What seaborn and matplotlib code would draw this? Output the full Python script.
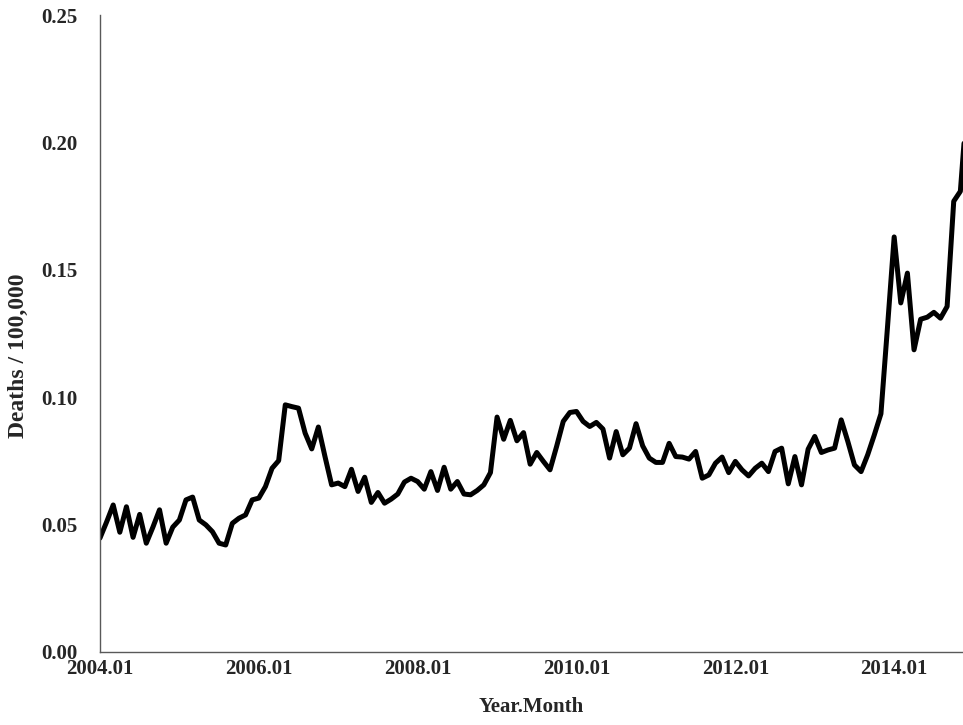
import numpy as np
import pandas as pd
import matplotlib.pyplot as plt
import seaborn as sns

# monthly rate, 2004.01 onwards
deaths = [
    0.0447, 0.0510, 0.0577, 0.0470, 0.0570, 0.0450, 0.0540, 0.0427, 0.0490, 0.0558,
    0.0427, 0.0490, 0.0518, 0.0597, 0.0608, 0.0518, 0.0499, 0.0472, 0.0427, 0.0420,
    0.0505, 0.0525, 0.0538, 0.0597, 0.0604, 0.0649, 0.0721, 0.0751, 0.0970, 0.0963,
    0.0957, 0.0859, 0.0797, 0.0883, 0.0767, 0.0656, 0.0663, 0.0649, 0.0717, 0.0630,
    0.0686, 0.0587, 0.0626, 0.0584, 0.0600, 0.0620, 0.0667, 0.0682, 0.0669, 0.0639,
    0.0708, 0.0634, 0.0725, 0.0639, 0.0669, 0.0620, 0.0617, 0.0634, 0.0656, 0.0704,
    0.0922, 0.0835, 0.0909, 0.0829, 0.0861, 0.0737, 0.0783, 0.0748, 0.0715, 0.0807,
    0.0905, 0.0940, 0.0944, 0.0905, 0.0885, 0.0901, 0.0875, 0.0761, 0.0865, 0.0774,
    0.0800, 0.0896, 0.0809, 0.0761, 0.0744, 0.0744, 0.0819, 0.0767, 0.0765, 0.0757,
    0.0787, 0.0682, 0.0695, 0.0741, 0.0765, 0.0704, 0.0748, 0.0715, 0.0691, 0.0721,
    0.0741, 0.0708, 0.0787, 0.0800, 0.0660, 0.0767, 0.0656, 0.0796, 0.0846, 0.0783,
    0.0793, 0.0800, 0.0911, 0.0826, 0.0734, 0.0708, 0.0774, 0.0852, 0.0935, 0.1278,
    0.1629, 0.1370, 0.1487, 0.1186, 0.1306, 0.1314, 0.1333, 0.1310, 0.1356, 0.1769,
    0.1808, 0.2150,
]
years = [2004 + i // 12 for i in range(len(deaths))]
months = [i % 12 + 1 for i in range(len(deaths))]
labels = [f"{y}.{m:02d}" for y, m in zip(years, months)]
y_ticks = [0, 0.05, 0.10, 0.15, 0.20, 0.25]

df = pd.DataFrame({"idx": np.arange(len(deaths)), "deaths": deaths, "label": labels})

sns.set_style("white")
plt.rcParams['font.family'] = ['Liberation Serif', 'DejaVu Serif']
plt.rcParams['font.weight'] = 'bold'

fig = plt.figure(figsize=(9.63, 7.25), dpi=100)
ax = fig.add_axes([0.1038, 0.1007, 0.8962, 0.8786])

sns.lineplot(data=df, x="idx", y="deaths", color="black", linewidth=3.6, ax=ax)

ax.set_xlim(0, 130.4)
ax.set_ylim(0, 0.25)
ax.set_xticks(df["idx"][::24])
ax.set_xticklabels(df["label"][::24], fontsize=15, fontweight='bold')
ax.set_yticks(y_ticks)
ax.set_yticklabels([f"{v:.2f}" for v in y_ticks], fontsize=15, fontweight='bold')
ax.tick_params(axis='x', length=0, pad=5)
ax.tick_params(axis='y', length=0, pad=16)
ax.set_xlabel("Year.Month", fontsize=15, fontweight='bold', labelpad=13)
ax.set_ylabel("Deaths / 100,000", fontsize=17, fontweight='bold', va='center')
ax.yaxis.set_label_coords(-0.095, 0.465)

sns.despine(ax=ax)
for s in ["left", "bottom"]:
    ax.spines[s].set_color("#595959")
    ax.spines[s].set_linewidth(1.0)

fig.savefig("out.png", dpi=100)
